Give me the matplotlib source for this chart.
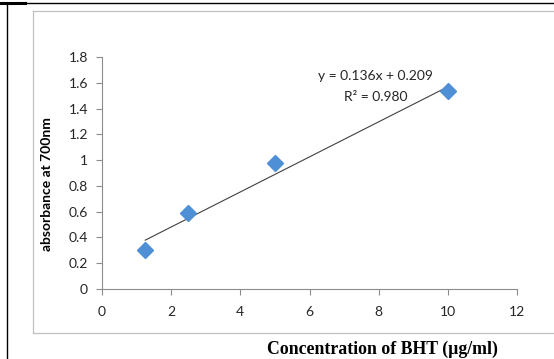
import numpy as np
import matplotlib.pyplot as plt
from matplotlib.lines import Line2D

# BHT standard curve, reducing power assay
conc = np.array([1.25, 2.5, 5, 10])
absorb = np.array([0.30, 0.59, 0.98, 1.535])
slope, intercept, r2 = 0.136, 0.209, 0.980

xticks = [0, 2, 4, 6, 8, 10, 12]
yticks = [0, 0.2, 0.4, 0.6, 0.8, 1, 1.2, 1.4, 1.6, 1.8]
yticklabels = ["0", "0.2", "0.4", "0.6", "0.8", "1", "1.2", "1.4", "1.6", "1.8"]

W, H = 554, 359
fig = plt.figure(figsize=(W / 100, H / 100), dpi=100)

def px(x, y):
    return x / W, 1 - y / H

# page borders and chart frame
for (x0, y0), (x1, y1), c, lw in [
    ((7, 3), (554, 3), "black", 1.0),
    ((0, 2.5), (25, 2.5), "black", 2.2),
    ((7, 3), (7, 359), "black", 1.0),
    ((33, 11), (554, 11), "#c0c0c0", 0.9),
    ((33, 11), (33, 333), "#c0c0c0", 0.9),
    ((33, 333), (554, 333), "#c0c0c0", 0.9),
]:
    a, b = px(x0, y0), px(x1, y1)
    fig.add_artist(Line2D([a[0], b[0]], [a[1], b[1]], color=c, lw=lw,
                          transform=fig.transFigure))

ax = fig.add_axes([102 / W, 70 / H, 415 / W, 232 / H])
ax.plot(conc, absorb, "D", color="#4f8fd6", ms=8.2, zorder=3)
xs = np.array([conc.min(), conc.max()])
ax.plot(xs, slope * xs + intercept, color="#404040", lw=0.8, zorder=2)

ax.set_xlim(0, 12)
ax.set_ylim(0, 1.8)
ax.set_xticks(xticks)
ax.set_yticks(yticks)
ax.set_yticklabels(yticklabels)
for s in ["top", "right"]:
    ax.spines[s].set_visible(False)
for s in ["left", "bottom"]:
    ax.spines[s].set_color("#8c8c8c")
    ax.spines[s].set_linewidth(0.8)
ax.tick_params(colors="#8c8c8c", length=4, width=0.8, labelcolor="#262626",
               labelsize=10)
ax.tick_params(axis="x", pad=8)
ax.tick_params(axis="y", pad=6)
for lab in ax.get_xticklabels() + ax.get_yticklabels():
    lab.set_family("Lato")

ax.text(0.66, 0.917, "y = %.3fx + %.3f" % (slope, intercept), transform=ax.transAxes,
        ha="center", va="center", fontsize=10, family="Lato", color="#262626")
ax.text(0.66, 0.827, "R² = %.3f" % r2, transform=ax.transAxes,
        ha="center", va="center", fontsize=10, family="Lato", color="#262626")

fig.text(47 / W, 1 - 184 / H, "absorbance at 700nm", rotation=90, ha="center",
         va="center", fontsize=10, fontweight="bold", family="Lato")
fig.text(382 / W, 1 - 349 / H, "Concentration of BHT (\u00b5g/ml)", ha="center",
         va="center", fontsize=12.8, fontweight="bold", family="Liberation Serif")

fig.savefig("out.png", dpi=100)
